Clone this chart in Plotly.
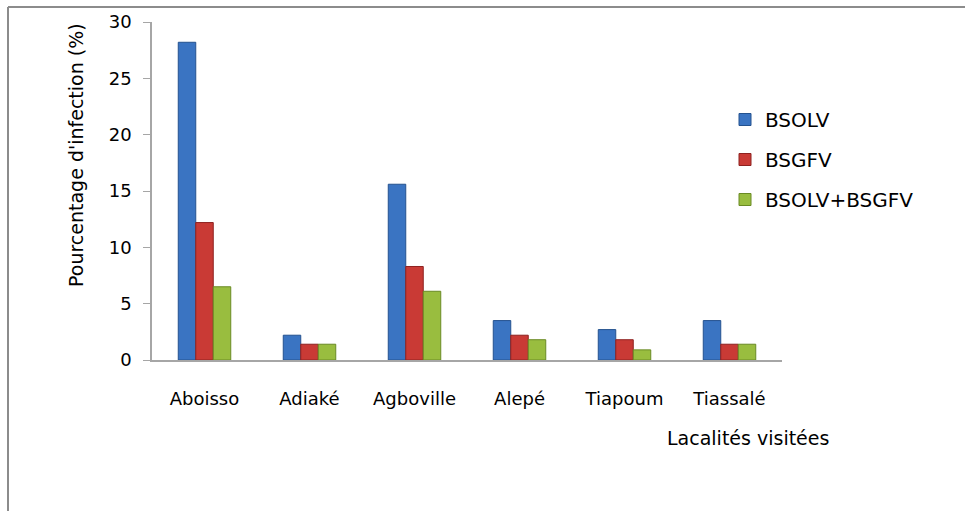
import plotly.graph_objects as go

# Localités et pourcentages d'infection par virus
categories = ["Aboisso", "Adiaké", "Agboville", "Alepé", "Tiapoum", "Tiassalé"]
bsolv = [28.2, 2.2, 15.6, 3.5, 2.7, 3.5]
bsgfv = [12.2, 1.4, 8.3, 2.2, 1.8, 1.4]
bsolv_bsgfv = [6.5, 1.4, 6.1, 1.8, 0.9, 1.4]

series_names = ["BSOLV", "BSGFV", "BSOLV+BSGFV"]
y_ticks = [0, 5, 10, 15, 20, 25, 30]

FONT = "DejaVu Sans"
W, H = 965, 511
L, R, T, B = 152, 183, 22, 151

fills = ["#3A74C2", "#C93A35", "#99BD3F"]
edges = ["#24528F", "#8E2220", "#6A8A24"]

fig = go.Figure()
for i, (name, vals) in enumerate(zip(series_names, [bsolv, bsgfv, bsolv_bsgfv])):
    fig.add_trace(go.Bar(
        x=categories, y=vals, name=name, legendgroup=name,
        marker=dict(color=fills[i], line=dict(color=edges[i], width=1)),
    ))

pw, ph = W - L - R, H - T - B

def px_x(p):
    return (p - L) / pw

def px_y(p):
    return (H - B - p) / ph

shapes = [
    dict(type="line", xref="paper", yref="paper", x0=px_x(8), x1=px_x(980),
         y0=px_y(7), y1=px_y(7), line=dict(color="#8C8C8C", width=2)),
    dict(type="line", xref="paper", yref="paper", x0=px_x(8), x1=px_x(8),
         y0=px_y(7), y1=px_y(530), line=dict(color="#8C8C8C", width=2)),
]

annotations = [
    dict(text="Pourcentage d'infection (%)", xref="paper", yref="paper",
         x=px_x(76), y=px_y(155), textangle=-90, showarrow=False,
         font=dict(family=FONT, size=19, color="#000000"),
         xanchor="center", yanchor="middle"),
    dict(text="Lacalités visitées", xref="paper", yref="paper",
         x=px_x(748), y=px_y(438), showarrow=False,
         font=dict(family=FONT, size=19, color="#000000"),
         xanchor="center", yanchor="middle"),
]

fig.update_layout(
    width=W, height=H,
    margin=dict(l=L, r=R, t=T, b=B, pad=0),
    paper_bgcolor="white", plot_bgcolor="white",
    barmode="group", bargap=0.5, bargroupgap=0,
    font=dict(family=FONT, size=18, color="#000000"),
    showlegend=True,
    legend=dict(x=px_x(725), y=px_y(100), xanchor="left", yanchor="top",
                traceorder="grouped", tracegroupgap=11,
                font=dict(family=FONT, size=20, color="#000000"),
                bgcolor="rgba(0,0,0,0)"),
    shapes=shapes,
    annotations=annotations,
)

fig.update_xaxes(
    showline=True, linecolor="#A6A6A6", linewidth=1.5,
    ticks="", showgrid=False, ticklabelstandoff=22,
    tickfont=dict(family=FONT, size=18, color="#000000"),
)
fig.update_yaxes(
    range=[0, 30], tickvals=y_ticks, showgrid=False, zeroline=False,
    showline=True, linecolor="#A6A6A6", linewidth=1.5,
    ticks="outside", ticklen=7, tickcolor="#A6A6A6", ticklabelstandoff=8,
    tickfont=dict(family=FONT, size=18, color="#000000"),
)

fig.write_html("out.html")
